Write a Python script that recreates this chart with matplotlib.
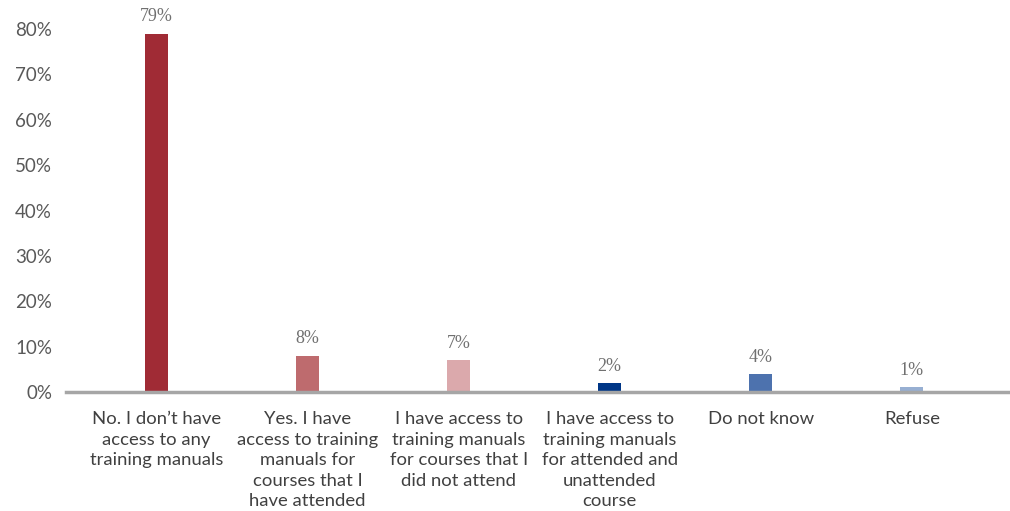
import matplotlib.pyplot as plt
import numpy as np

# Access to training manuals (share of respondents, %)
categories = [
    "No. I don\u2019t have\naccess to any\ntraining manuals",
    "Yes. I have\naccess to training\nmanuals for\ncourses that I\nhave attended",
    "I have access to\ntraining manuals\nfor courses that I\ndid not attend",
    "I have access to\ntraining manuals\nfor attended and\nunattended\ncourse",
    "Do not know",
    "Refuse",
]
values = [79, 8, 7, 2, 4, 1]
colors = ["#A02B35", "#BE6B6E", "#DBA9AC", "#003686", "#4D72AE", "#97AFD2"]
yticks = [0, 10, 20, 30, 40, 50, 60, 70, 80]

fig = plt.figure(figsize=(10.10, 5.11), dpi=100)
ax = fig.add_axes([66 / 1010, (511 - 392) / 511, 1 - 66 / 1010, (392 - 29) / 511])

x = np.arange(len(values))
bars = ax.bar(x, values, width=0.15, color=colors, zorder=2)

for b, v in zip(bars, values):
    ax.annotate(f"{v}%", (b.get_x() + b.get_width() / 2, v),
                xytext=(0, 6), textcoords="offset points",
                ha="center", va="bottom", fontsize=13,
                family="Liberation Serif", color="#707070",
                annotation_clip=False)

ax.set_xlim(-0.6, 5.65)
ax.set_ylim(0, 80)
ax.set_yticks(yticks)
ax.set_yticklabels([f"{t}%" for t in yticks], family="Lato",
                   fontsize=13.5, color="#595959")
ax.set_xticks(x)
ax.set_xticklabels(categories, family="Lato", fontsize=13.3,
                   color="#404040", linespacing=1.34, va="top")

for s in ["top", "right", "left"]:
    ax.spines[s].set_visible(False)
ax.spines["bottom"].set_color("#A6A6A6")
ax.spines["bottom"].set_linewidth(2.5)
ax.tick_params(axis="both", length=0)
ax.tick_params(axis="y", pad=10)
ax.tick_params(axis="x", pad=14)

fig.savefig("out.png", dpi=100)
